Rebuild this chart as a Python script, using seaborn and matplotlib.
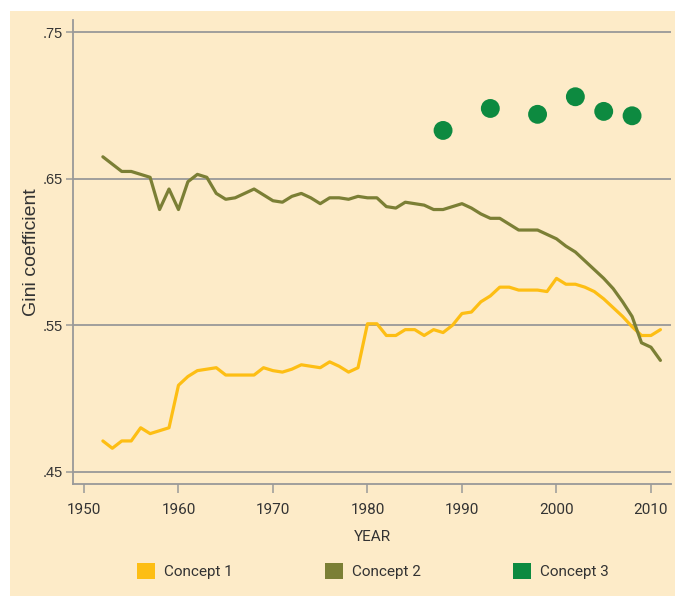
import numpy as np
import pandas as pd
import matplotlib
matplotlib.use("Agg")
import matplotlib.pyplot as plt
from matplotlib.patches import Rectangle, Patch
import seaborn as sns

# ---- data ----
years = list(range(1952, 2012))
concept1 = [0.471, 0.466, 0.471, 0.471, 0.480, 0.476, 0.478, 0.480, 0.509, 0.515,
            0.519, 0.520, 0.521, 0.516, 0.516, 0.516, 0.516, 0.521, 0.519, 0.518,
            0.520, 0.523, 0.522, 0.521, 0.525, 0.522, 0.518, 0.521, 0.551, 0.551,
            0.543, 0.543, 0.547, 0.547, 0.543, 0.547, 0.545, 0.550, 0.558, 0.559,
            0.566, 0.570, 0.576, 0.576, 0.574, 0.574, 0.574, 0.573, 0.582, 0.578,
            0.578, 0.576, 0.573, 0.568, 0.562, 0.556, 0.549, 0.543, 0.543, 0.547]
concept2 = [0.665, 0.660, 0.655, 0.655, 0.653, 0.651, 0.629, 0.643, 0.629, 0.648,
            0.653, 0.651, 0.640, 0.636, 0.637, 0.640, 0.643, 0.639, 0.635, 0.634,
            0.638, 0.640, 0.637, 0.633, 0.637, 0.637, 0.636, 0.638, 0.637, 0.637,
            0.631, 0.630, 0.634, 0.633, 0.632, 0.629, 0.629, 0.631, 0.633, 0.630,
            0.626, 0.623, 0.623, 0.619, 0.615, 0.615, 0.615, 0.612, 0.609, 0.604,
            0.600, 0.594, 0.588, 0.582, 0.575, 0.566, 0.556, 0.538, 0.535, 0.526]
concept3_years = [1988, 1993, 1998, 2002, 2005, 2008]
concept3 = [0.683, 0.698, 0.694, 0.706, 0.696, 0.693]
series_names = ["Concept 1", "Concept 2", "Concept 3"]
x_ticks = [1950, 1960, 1970, 1980, 1990, 2000, 2010]
y_ticks = [0.45, 0.55, 0.65, 0.75]
y_tick_labels = [".45", ".55", ".65", ".75"]

colors = {"Concept 1": "#FDBE14", "Concept 2": "#7B7F35", "Concept 3": "#0D8A40"}
cream = "#FDEBC8"
grid_c = "#999999"
text_c = "#333333"

lines_df = pd.DataFrame({
    "year": years * 2,
    "gini": concept1 + concept2,
    "series": ["Concept 1"] * len(years) + ["Concept 2"] * len(years),
})
dots_df = pd.DataFrame({"year": concept3_years, "gini": concept3,
                        "series": ["Concept 3"] * len(concept3)})

sns.set_theme(style="white")
W, H = 675, 596
fig = plt.figure(figsize=(W / 100, H / 100), dpi=100, facecolor="white")
fig.add_artist(Rectangle((10 / W, 0), (W - 10) / W, (H - 11) / H,
                         transform=fig.transFigure, facecolor=cream,
                         edgecolor="none", zorder=-10))

ax = fig.add_axes([73 / W, 1 - 484.3 / H, (671 - 73) / W, (484.3 - 20) / H])
ax.set_facecolor(cream)

sns.lineplot(data=lines_df, x="year", y="gini", hue="series",
             palette=colors, linewidth=2.3, ax=ax, legend=False)
sns.scatterplot(data=dots_df, x="year", y="gini", hue="series",
                palette=colors, s=185, edgecolor="none", ax=ax, legend=False,
                zorder=5)

ax.set_xlim(1948.84, 2012.12)
ax.set_ylim(0.4414, 0.7584)

ax.set_yticks(y_ticks)
ax.set_yticklabels(y_tick_labels, family=["Liberation Sans", "DejaVu Sans"],
                   fontsize=10.5, color=text_c)
ax.set_xticks(x_ticks)
ax.set_xticklabels([str(t) for t in x_ticks], family=["Roboto", "DejaVu Sans"],
                   fontsize=11, color=text_c)

ax.yaxis.grid(True, color=grid_c, linewidth=1.3)
ax.xaxis.grid(False)
ax.set_axisbelow(True)

for s in ["top", "right"]:
    ax.spines[s].set_visible(False)
for s in ["left", "bottom"]:
    ax.spines[s].set_color(grid_c)
    ax.spines[s].set_linewidth(1.3)

ax.tick_params(axis="y", which="major", direction="out", length=5, width=1.1,
               color=grid_c, pad=2, left=True)
ax.tick_params(axis="x", which="major", direction="out", length=6.5, width=1.1,
               color=grid_c, pad=7, bottom=True)

ax.set_xlabel("YEAR", family=["Roboto", "DejaVu Sans"], fontsize=11,
              color=text_c, labelpad=9)
ax.set_ylabel("Gini coefficient", family=["Liberation Sans", "DejaVu Sans"],
              fontsize=14, color=text_c, labelpad=2)

handles = [Patch(facecolor=colors[n], edgecolor="none") for n in series_names]
fig.legend(handles, series_names, loc="center", bbox_to_anchor=(373 / W, 1 - 571 / H),
           ncol=3, frameon=False, prop={"family": "Roboto", "size": 11},
           labelcolor=text_c, handlelength=1.18, handleheight=1.18,
           handletextpad=0.6, columnspacing=6.0)

fig.savefig("out.png", dpi=100, facecolor="white")
